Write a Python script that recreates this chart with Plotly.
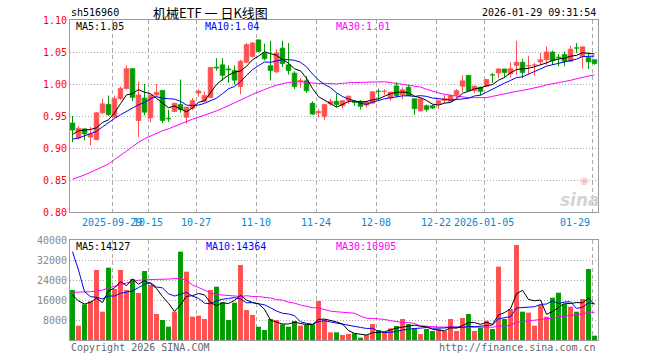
import plotly.graph_objects as go

# ---------------- data ----------------
opens = [0.939, 0.916, 0.930, 0.917, 0.913, 0.955, 0.968, 0.948, 0.977, 0.993,
         1.024, 0.943, 0.978, 0.947, 0.983, 0.990, 0.9465, 0.957, 0.968, 0.948,
         0.962, 0.986, 0.973, 0.979, 1.0265, 1.030, 1.0235, 1.021, 0.996, 1.034,
         1.043, 1.069, 1.048, 1.0285, 1.019, 1.056, 1.030, 1.017, 1.0045, 1.005,
         0.970, 0.955, 0.949, 0.969, 0.973, 0.966, 0.974, 0.972, 0.973, 0.967,
         0.970, 0.9888, 0.988, 0.978, 0.997, 0.983, 0.995, 0.977, 0.958, 0.966,
         0.966, 0.969, 0.9745, 0.973, 0.983, 0.9965, 1.0135, 0.9895, 0.995, 0.9965,
         1.0145, 1.0172, 1.0235, 1.016, 1.029, 1.034, 1.028, 1.0295, 1.0345, 1.038,
         1.050, 1.042, 1.046, 1.0355, 1.0565, 1.043, 1.0415, 1.038]
highs = [0.950, 0.934, 0.930, 0.933, 0.956, 0.977, 0.982, 0.982, 0.996, 1.029,
         1.024, 1.004, 1.000, 0.983, 1.000, 0.990, 0.960, 0.970, 1.007, 0.964,
         0.978, 0.992, 0.988, 1.026, 1.0405, 1.0405, 1.029, 1.029, 1.038, 1.064,
         1.0655, 1.069, 1.063, 1.0675, 1.0545, 1.0675, 1.064, 1.020, 1.009, 1.012,
         0.973, 0.961, 0.968, 0.977, 0.985, 0.974, 0.982, 0.975, 0.975, 0.974,
         0.988, 0.993, 0.992, 0.9875, 1.003, 0.995, 0.999, 0.977, 0.977, 0.968,
         0.968, 0.974, 0.983, 0.983, 0.992, 1.0135, 1.0135, 0.998, 0.996, 1.007,
         1.017, 1.025, 1.0235, 1.034, 1.0675, 1.0395, 1.044, 1.033, 1.0485, 1.059,
         1.052, 1.047, 1.051, 1.0595, 1.064, 1.059, 1.0495, 1.038]
lows = [0.909, 0.913, 0.912, 0.904, 0.912, 0.953, 0.950, 0.947, 0.975, 0.991,
        0.973, 0.917, 0.951, 0.940, 0.980, 0.939, 0.941, 0.957, 0.955, 0.938,
        0.959, 0.980, 0.971, 0.978, 1.021, 1.005, 1.0015, 0.999, 0.984, 1.033,
        1.0415, 1.0495, 1.037, 1.0055, 1.017, 1.0265, 1.0145, 0.992, 0.994, 0.986,
        0.952, 0.948, 0.944, 0.966, 0.964, 0.962, 0.969, 0.966, 0.960, 0.963,
        0.969, 0.9755, 0.983, 0.974, 0.979, 0.976, 0.981, 0.952, 0.957, 0.957,
        0.961, 0.961, 0.970, 0.972, 0.978, 0.9875, 0.9885, 0.986, 0.982, 0.995,
        1.0015, 1.009, 1.010, 1.010, 1.0145, 1.009, 1.0145, 1.013, 1.030, 1.030,
        1.030, 1.0275, 1.0275, 1.0345, 1.0485, 1.024, 1.0235, 1.030]
closes = [0.928, 0.931, 0.922, 0.922, 0.955, 0.969, 0.952, 0.977, 0.993, 1.024,
          0.979, 0.983, 0.956, 0.983, 0.987, 0.943, 0.9455, 0.970, 0.960, 0.964,
          0.974, 0.989, 0.982, 1.026, 1.025, 1.0135, 1.022, 1.006, 1.0355, 1.0615,
          1.064, 1.051, 1.0395, 1.021, 1.0485, 1.032, 1.021, 0.996, 1.0055, 0.9895,
          0.953, 0.957, 0.968, 0.973, 0.968, 0.974, 0.981, 0.971, 0.965, 0.972,
          0.988, 0.9882, 0.989, 0.9875, 0.982, 0.991, 0.982, 0.9615, 0.977, 0.960,
          0.9625, 0.974, 0.977, 0.982, 0.9895, 1.005, 0.9895, 0.9965, 0.9885, 1.007,
          1.014, 1.0235, 1.018, 1.024, 1.034, 1.018, 1.029, 1.030, 1.038, 1.050,
          1.0365, 1.041, 1.0355, 1.0545, 1.056, 1.058, 1.0345, 1.032]
volumes = [20000, 5733, 14267, 15500, 28000, 11333, 28933, 20400, 28000, 20000,
           24400, 18800, 27600, 22000, 10400, 8000, 5333, 11333, 35333, 27333,
           9333, 9733, 8400, 20000, 21333, 15067, 8000, 14933, 30000, 12000,
           10000, 5333, 4000, 8400, 8000, 6267, 5333, 7600, 5733, 6000,
           6267, 15600, 8267, 3067, 3067, 2000, 2400, 2667, 933, 2000,
           6400, 4000, 3067, 4667, 5600, 8400, 6400, 4667, 2400, 4400,
           3600, 4400, 3600, 8400, 3600, 8800, 10400, 3600, 4933, 7733,
           4400, 29333, 8400, 12400, 38000, 11333, 10933, 5733, 14000, 9333,
           16933, 18933, 14400, 13333, 11333, 16400, 28400, 1733]

# moving-average values before a full window exists
ma5_head = [0.921, 0.927, 0.928, 0.929]
ma10_head = [0.914, 0.9155, 0.919, 0.922, 0.926, 0.933, 0.940, 0.946, 0.952]
ma30_head = [0.851, 0.854, 0.858, 0.862, 0.866, 0.870, 0.875, 0.882, 0.888, 0.895,
             0.902, 0.909, 0.9145, 0.919, 0.923, 0.927, 0.930, 0.934, 0.938, 0.9417,
             0.945, 0.948, 0.951, 0.955, 0.958, 0.962, 0.966, 0.970, 0.974]
vma5_head = [18000, 15600, 14400, 15067]
vma10_head = [35333, 28000, 19333, 17333, 17067, 16400, 17600, 17600, 18667]
vma30_head = [19067, 19067, 19200, 19333, 19600, 20000, 20800, 21500, 22300, 23067,
              23500, 23900, 24100, 24267, 24267, 24267, 24400, 24500, 24667, 23800,
              22000, 21000, 19800, 18900, 18200, 18000, 17800, 17600, 17400]

tick_index = [7, 13, 21, 31, 41, 51, 61, 69, 87]
tick_labels = ["2025-09-29", "10-15", "10-27", "11-10", "11-24", "12-08",
               "12-22", "2026-01-05", "01-29"]
price_ticks = [0.80, 0.85, 0.90, 0.95, 1.00, 1.05, 1.10]
vol_ticks = [8000, 16000, 24000, 32000, 40000]

title_text = "机械ETF 一 日K线图"
code_text = "sh516960"
time_text = "2026-01-29 09:31:54"
legend_price = ["MA5:1.05", "MA10:1.04", "MA30:1.01"]
legend_vol = ["MA5:14127", "MA10:14364", "MA30:10905"]

# ---------------- helpers ----------------
def moving_avg(vals, n, head):
    out = []
    for i in range(len(vals)):
        if i < n - 1:
            out.append(head[i])
        else:
            out.append(sum(vals[i - n + 1:i + 1]) / n)
    return out

N = len(closes)
idx = list(range(N))
RED = "#ff4f4f"
GREEN = "#009c00"
GRID = "#aaaaaa"
BORDER = "#9a9a9a"
MONO = "DejaVu Sans Mono"
W, H = 660, 360

def px(x):
    return x / W

def py(y):
    return 1 - y / H

up = [c >= o for o, c in zip(opens, closes)]

fig = go.Figure()

# wicks
for flag, col in ((True, RED), (False, GREEN)):
    xs, ys = [], []
    for i in idx:
        if up[i] == flag:
            xs += [i, i, None]
            ys += [lows[i], highs[i], None]
    fig.add_trace(go.Scatter(x=xs, y=ys, mode="lines", line=dict(color=col, width=1),
                             hoverinfo="skip", showlegend=False, xaxis="x", yaxis="y"))

# bodies
for flag, col in ((True, RED), (False, GREEN)):
    xs = [i for i in idx if up[i] == flag]
    base = [min(opens[i], closes[i]) for i in xs]
    hgt = [abs(closes[i] - opens[i]) for i in xs]
    fig.add_trace(go.Bar(x=xs, y=hgt, base=base, width=0.78,
                         marker=dict(color=col, line=dict(color=col, width=0.7)),
                         showlegend=False, xaxis="x", yaxis="y"))

# price MAs
for n, head, col in ((30, ma30_head, "#ff00ff"), (10, ma10_head, "#0000ff"), (5, ma5_head, "#000000")):
    fig.add_trace(go.Scatter(x=idx, y=moving_avg(closes, n, head), mode="lines",
                             line=dict(color=col, width=1), showlegend=False,
                             xaxis="x", yaxis="y"))

# volume bars
for flag, col in ((True, RED), (False, GREEN)):
    xs = [i for i in idx if up[i] == flag]
    fig.add_trace(go.Bar(x=xs, y=[volumes[i] for i in xs], width=0.82,
                         marker=dict(color=col, line=dict(width=0)),
                         showlegend=False, xaxis="x2", yaxis="y2"))

for n, head, col in ((30, vma30_head, "#ff00ff"), (10, vma10_head, "#0000ff"), (5, vma5_head, "#000000")):
    fig.add_trace(go.Scatter(x=idx, y=moving_avg(volumes, n, head), mode="lines",
                             line=dict(color=col, width=1), showlegend=False,
                             xaxis="x2", yaxis="y2"))

xr = [-0.4167, N - 0.4167]
grid_x = [t - 0.4167 for t in tick_index]

xdom = [px(70), px(598)]
common_x = dict(range=xr, showgrid=True, gridcolor=GRID, griddash="4px,3px", gridwidth=1,
                tickmode="array", tickvals=grid_x, showticklabels=False, ticks="",
                zeroline=False, showline=True, linecolor=BORDER, mirror=True,
                fixedrange=True, automargin=False)

fig.update_layout(
    width=W, height=H, margin=dict(l=0, r=0, t=0, b=0, pad=0, autoexpand=False),
    paper_bgcolor="white", plot_bgcolor="white", barmode="overlay",
    xaxis=dict(domain=xdom, anchor="y", **common_x),
    xaxis2=dict(domain=xdom, anchor="y2", **common_x),
    yaxis=dict(domain=[py(212), py(20)], range=[0.80, 1.10], tickvals=price_ticks,
               tickformat=".2f", tickfont=dict(family=MONO, size=10, color="#ff0000"),
               showgrid=True, gridcolor=GRID, griddash="1px,2px", zeroline=False,
               showline=True, linecolor=BORDER, mirror=True, ticks="", anchor="x",
               automargin=False, fixedrange=True),
    yaxis2=dict(domain=[py(340), py(240)], range=[0, 40000], tickvals=vol_ticks,
                tickformat="d", tickfont=dict(family=MONO, size=10, color="#8a8a8a"),
                showgrid=True, gridcolor=GRID, griddash="1px,2px", zeroline=False,
                showline=True, linecolor=BORDER, mirror=True, ticks="", anchor="x2",
                automargin=False, fixedrange=True),
    font=dict(family=MONO),
    hovermode=False,
)

ann = []
def text(x, y, s, color="#000000", size=10, xanchor="left", family=MONO, **kw):
    ann.append(dict(x=px(x), y=py(y), xref="paper", yref="paper", text=s, showarrow=False,
                    xanchor=xanchor, yanchor="middle", font=dict(family=family, size=size, color=color), **kw))

text(69, 13, code_text, size=10)
text(210, 13, title_text.replace(" ", "&nbsp;"), size=13, xanchor="center", family="Noto Sans CJK SC")
text(598, 13, time_text, size=10, xanchor="right")
text(74, 27, legend_price[0])
text(203, 27, legend_price[1], color="#0000ff")
text(334, 27, legend_price[2], color="#ff00ff")
text(74, 246, legend_vol[0])
text(204, 246, legend_vol[1], color="#0000ff")
text(334, 246, legend_vol[2], color="#ff00ff")
text(69, 347, "Copyright 2026 SINA.COM", color="#666666")
text(598, 347, "http://finance.sina.com.cn", color="#666666", xanchor="right")

# x tick labels
for k, (t, lab) in enumerate(zip(tick_index, tick_labels)):
    xp = 70 + (t - xr[0]) * 6 - 2.5
    if k == len(tick_index) - 1:
        text(xp, 222, lab, color="#0a86d0", size=10, xanchor="right")
    else:
        text(xp, 222, lab, color="#0a86d0", size=10, xanchor="center")

# watermark
text(580, 200, "<b><i>sina</i></b>", color="#d4d4d4", size=17, xanchor="center", family="DejaVu Sans")
text(584, 180, "◉", color="#f2c0c0", size=10, xanchor="center", family="DejaVu Sans")

fig.update_layout(annotations=ann)
fig.write_html("out.html", config={"displayModeBar": False, "staticPlot": True},
               post_script="document.body.style.margin='0px';document.body.style.overflow='hidden';")
